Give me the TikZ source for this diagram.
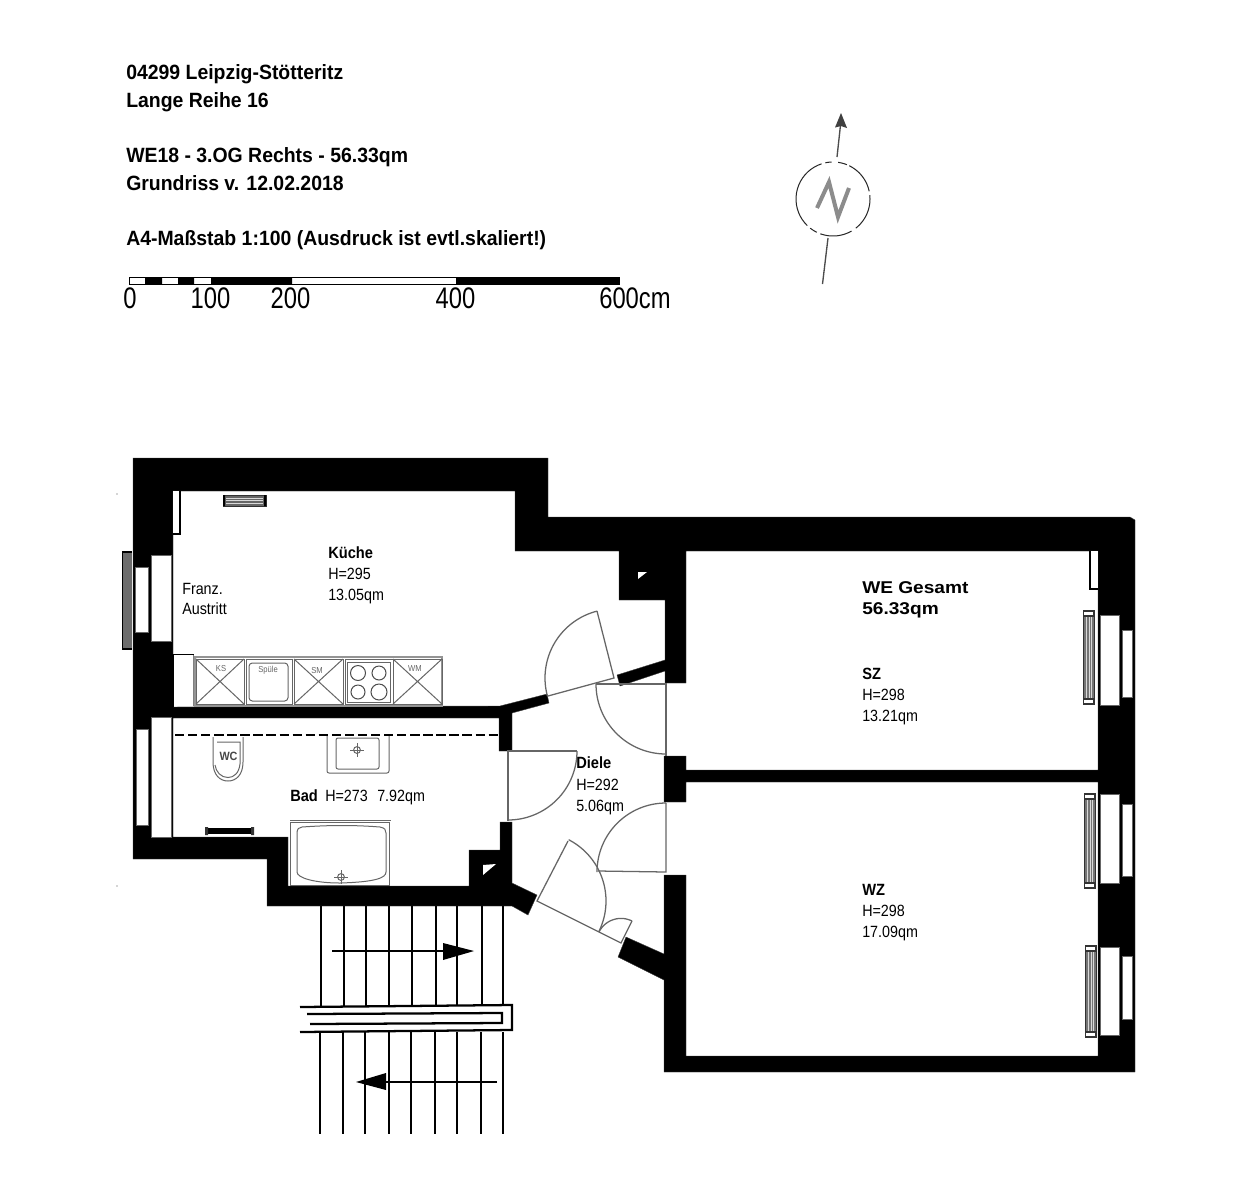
\documentclass[tikz,border=0pt]{standalone}
\usepackage{fontspec}
\setmainfont{Liberation Sans}
\newfontfamily\hdfont[FakeStretch=0.94]{Liberation Sans Bold}
\newfontfamily\scfont[FakeStretch=0.8]{Liberation Sans}
\newfontfamily\rmfont[FakeStretch=0.88]{Liberation Sans}
\newfontfamily\rbfont[FakeStretch=0.9]{Liberation Sans Bold}
\newfontfamily\wefont[FakeStretch=1.12]{Liberation Sans Bold}
\definecolor{fixgray}{HTML}{666666}
\tikzset{
  hd/.style={anchor=base west,inner sep=0pt,font=\hdfont\fontsize{15.5pt}{17pt}\selectfont},
  sc/.style={anchor=base,inner sep=0pt,font=\scfont\fontsize{22.3pt}{24pt}\selectfont},
  rm/.style={anchor=base west,inner sep=0pt,font=\rmfont\fontsize{12.2pt}{14pt}\selectfont},
  rb/.style={anchor=base west,inner sep=0pt,font=\rbfont\fontsize{12.2pt}{14pt}\selectfont},
  we/.style={anchor=base west,inner sep=0pt,font=\wefont\fontsize{12.8pt}{14pt}\selectfont},
  tiny/.style={anchor=center,inner sep=0pt,text=fixgray,font=\rmfont\fontsize{6.5pt}{7pt}\selectfont},
  door/.style={draw=fixgray,line width=0.95pt},
  fix/.style={draw=fixgray,line width=0.75pt},
  win/.style={fill=white,draw=fixgray,line width=0.5pt},
  stair/.style={draw=black,line width=1.9pt},
  rail/.style={draw=black,line width=1.7pt},
}
\newcommand{\darc}[5]{\draw[door] plot[domain=#4:#5,samples=40] ({#1+#3*cos(\x)},{#2+#3*sin(\x)});}
\newcommand{\rad}[4]{%
  \fill[fixgray!90] (#1,#2) rectangle (#3,#4);
  \foreach \q in {0.3,0.5,0.7}{\draw[white!70!gray,line width=0.3pt] ({#1+(#3-#1)*\q},{#2+5}) -- ({#1+(#3-#1)*\q},{#4-5});}
  \draw[black!80,line width=0.6pt] (#1,#2) rectangle (#3,#4);
  \draw[black!80,fill=white,line width=0.8pt] (#1,#2) rectangle (#3,{#2+5});
  \draw[black!80,fill=white,line width=0.8pt] (#1,{#4-5}) rectangle (#3,#4);}
\newcommand{\target}[3]{%
  \draw[fix] (#1,#2) circle (#3*0.62);
  \draw[fix,line width=0.5pt] ({#1-#3*1.2},#2) -- ({#1+#3*1.2},#2) ({#1},{#2-#3*1.2}) -- ({#1},{#2+#3*1.2});}
\begin{document}
\begin{tikzpicture}[x=0.75pt,y=-0.75pt]
\useasboundingbox (0,0) rectangle (1252,1200);
\fill[white] (0,0) rectangle (1252,1200);
% header
\node[hd] (t1) at (126,79) {04299 Leipzig-Stötteritz};
\node[hd] (t2) at (126,107) {Lange Reihe 16};
\node[hd] (t3) at (126,162) {WE18 - 3.OG Rechts - 56.33qm};
\node[hd] (t4) at (126,190) {Grundriss v. 12.02.2018};
\node[hd] (t5) at (126,245) {A4-Maßstab 1:100 (Ausdruck ist evtl.skaliert!)};
% scale bar
\draw[black,line width=0.75pt,fill=white] (129,277.5) rectangle (619,284);
\fill[black] (145,277.5) rectangle (162,284) (178,277.5) rectangle (194,284) (211,277.5) rectangle (292,284) (456,277.5) rectangle (619,284);
\node[sc] (s0) at (130,308) {0};
\node[sc] (s1) at (210.5,308) {100};
\node[sc] (s2) at (290.5,308) {200};
\node[sc] (s3) at (455.5,308) {400};
\node[sc,anchor=base west] (s4) at (599,308) {600cm};
% compass
\foreach \a/\b in {-82/-68,-64/-12,-6/52,60/110,116/128,134/252,258/268}{
  \draw[black!85,line width=0.75pt] plot[domain=\a:\b,samples=20] ({833+37*cos(\x)},{199+37*sin(\x)});}
\draw[black!70,line width=1pt] (837,157) -- (840.5,125);
\fill[black!75] (841,113) -- (847,128) -- (841,126) -- (835,127.5) -- cycle;
\draw[black!70,line width=1pt] (828,238) -- (822.5,284);
\draw[gray!90,line width=3pt,line join=miter] (817,208) -- (829,182) -- (838,217) -- (849,188);
% walls
\fill[black,draw=black!75,line width=0.3pt] (133,458) -- (548,458) -- (548,517) -- (1130,517) -- (1135,520) -- (1135,1072) -- (664,1072)
 -- (664,980) -- (618,957) -- (626,937) -- (664,954) -- (664,875) -- (686,875) -- (686,1056) -- (1098,1056) -- (1098,782) -- (686,782)
 -- (686,802) -- (664,802) -- (664,756) -- (686,756) -- (686,770) -- (1098,770) -- (1098,551) -- (686,551) -- (686,683) -- (665,683)
 -- (665,671) -- (620,686) -- (617,675) -- (665,660) -- (665,600) -- (619,600) -- (619,551) -- (515,551) -- (515,491) -- (173,491)
 -- (173,707) -- (500,706) -- (547,694) -- (549,703) -- (512,713) -- (512,751) -- (499,751) -- (499,718) -- (173,718) -- (173,837)
 -- (288,837) -- (288,886) -- (469,886) -- (469,850) -- (500,850) -- (500,822) -- (512,822) -- (512,883) -- (537,895) -- (528,915)
 -- (512,906) -- (267,906) -- (267,859) -- (133,859) -- cycle;
% flue openings
\fill[white] (638,572) -- (647,572) -- (638,579) -- cycle;
\fill[white] (483,865) -- (496,864) -- (483,875) -- cycle;
% alcoves
\fill[white] (173,491) rectangle (179,533);
\draw[black,line width=1.2pt] (180,491) -- (180,534) -- (173,534);
\fill[white] (1098,551) rectangle (1091,588);
\draw[black,line width=1.2pt] (1090,551) -- (1090,589) -- (1098,589);
% left windows
\draw[win] (151,555) rectangle (171,641);
\draw[win] (135,567) rectangle (148,632);
\draw[win] (151,717) rectangle (171,837);
\draw[win] (136,729) rectangle (148,825);
\fill[gray!85!black] (123,553) rectangle (132,648);
\draw[black,line width=1pt] (132,552) -- (122.5,552) -- (122.5,649) -- (132,649);
% right windows
\draw[win] (1100,615) rectangle (1119,705);
\draw[win] (1122,630) rectangle (1132,697);
\draw[win] (1100,794) rectangle (1119,883);
\draw[win] (1122,804) rectangle (1132,876);
\draw[win] (1100,947) rectangle (1119,1035);
\draw[win] (1122,956) rectangle (1132,1019);
\rad{1083.5}{611}{1094}{704}
\rad{1084.5}{794}{1095}{888}
\rad{1085.5}{946}{1096}{1037}
% kitchen vent
\fill[fixgray] (223,495) rectangle (266,506);
\foreach \v in {498,500.5,503}{\draw[white!70!gray,line width=0.3pt] (226,\v) -- (263,\v);}
\draw[black!80,line width=0.5pt] (223.5,495) rectangle (266,506);
\fill[black] (223,495) rectangle (225,506) (264,495) rectangle (266,506);
% kitchen niche
\fill[white] (173,655) rectangle (193,706);
\draw[black,line width=1.2pt] (172,654.5) -- (194,654.5);
\draw[black,line width=1pt] (173,655) -- (173,707);
\draw[gray,line width=0.75pt] (193.5,655) -- (193.5,706);
% kitchen counter
\draw[fixgray!70,line width=1.1pt] (195,657) rectangle (442,706);
\foreach \a/\b in {196/244,246/292,294/343,345/393,393/442}{\draw[fixgray,line width=0.7pt] (\a,659) rectangle (\b,704);}
\draw[fix] (196,659) -- (244,704) (244,659) -- (196,704);
\draw[fix] (294,659) -- (343,704) (343,659) -- (294,704);
\draw[fix] (393,659) -- (442,704) (442,659) -- (393,704);
\draw[fix,rounded corners=2.5pt] (249,663) rectangle (288,701);
\draw[fix] (347,662) rectangle (390,702);
\draw[black!70,line width=0.75pt] (358,673) circle (7.5) (379,673) circle (7) (358,692) circle (7) (379,692) circle (8);
\node[fill=white,inner sep=0.8pt,tiny] (ks) at (221,669) {KS};
\node[tiny] (sp) at (268,670) {Spüle};
\node[fill=white,inner sep=0.8pt,tiny] (sm) at (317,671) {SM};
\node[fill=white,inner sep=0.8pt,tiny] (wm) at (415,669) {WM};
% bath
\draw[black,line width=2pt,dash pattern=on 7pt off 2.8pt] (175,735) -- (499,735);
\draw[fix] (213,737) -- (213,762) .. controls (213,775) and (220,781) .. (228,781) .. controls (236,781) and (243,775) .. (243,762) -- (243,737);
\draw[fix] (217,742) -- (240,742) -- (240,764) .. controls (239,773) and (234,777.5) .. (228,777.5) .. controls (221,777.5) and (216,772) .. (215,765);
\node[inner sep=0pt,text=fixgray!70!black,font=\rbfont\fontsize{9pt}{10pt}\selectfont] (wc) at (228.5,756.5) {WC};
\draw[fix,rounded corners=1.5pt] (327,736) -- (327,773) -- (389,773) -- (389,736);
\draw[fix,rounded corners=1.5pt] (336,738) rectangle (379,769);
\target{357}{750}{5.5}
\draw[fill=white,black,line width=0.5pt] (206,828.5) rectangle (253,833.5);
\fill[black!80] (205,827) rectangle (208,835) (251,827) rectangle (254,835);
\draw[fix] (290,822) rectangle (389,885);
\draw[fix] (290,820.5) -- (391,820.5);
\draw[fix] (302,827) .. controls (330,825) and (355,825) .. (380,827) .. controls (385,828) and (386,830) .. (386,833) -- (386,872) .. controls (386,878) and (375,882) .. (340,883) .. controls (315,883) and (297,878) .. (297,872) -- (297,833) .. controls (297,829) and (299,827) .. (302,827) -- cycle;
\target{341}{877}{5.5}
% doors
\draw[door] (548,696) -- (614,678) -- (597,611);
\darc{614}{678}{69}{164.7}{255.8}
\draw[door] (596,684) -- (666,684) -- (666,756);
\darc{666}{684}{70}{90}{180}
\draw[door] (577,751) -- (508,751) -- (508,821);
\darc{508}{751}{69}{0}{90}
\draw[door] (666,803) -- (666,872) -- (598,871);
\darc{666}{872}{69}{180}{270}
\draw[door] (568,841) -- (537,901) -- (621,943) -- (632,921);
\darc{537}{901}{69}{-62.7}{26.6}
\darc{621}{943}{24.6}{206.6}{296.6}
% stairs
\foreach \x in {321,344,366,389,412,436,457,482,503}{\draw[stair] (\x,906) -- (\x,1007);}
\foreach \x in {320,343,365,389,411,435,457,481,503}{\draw[stair] (\x,1032) -- (\x,1134);}
\draw[stair] (332,951) -- (445,951);
\fill[black] (474,951) -- (443,943) -- (443,960) -- cycle;
\draw[stair] (497,1082) -- (384,1082);
\fill[black] (356,1082) -- (386,1073) -- (386,1090) -- cycle;
\draw[rail,fill=white] (300,1007) -- (512,1005) -- (512,1030) -- (300,1032);
\draw[rail] (307,1014) -- (502,1013) -- (502,1023) -- (310,1024);
% specks
\fill[black!70] (117,494) circle (0.7) (117,886) circle (0.7);
% room labels
\node[rb] (k1) at (328,558.5) {Küche};
\node[rm] (k2) at (328,579.5) {H=295};
\node[rm] (k3) at (328,600.5) {13.05qm};
\node[rm] (f1) at (182,594) {Franz.};
\node[rm] (f2) at (182,614.5) {Austritt};
\node[rb] (b1) at (290,801) {Bad};
\node[rm] (b2) at (325,801) {H=273};
\node[rm] (b3) at (377,801) {7.92qm};
\node[rb] (d1) at (576,768.5) {Diele};
\node[rm] (d2) at (576,790) {H=292};
\node[rm] (d3) at (576,811) {5.06qm};
\node[we] (w1) at (862,593) {WE Gesamt};
\node[we] (w2) at (862,614) {56.33qm};
\node[rb] (z1) at (862,679) {SZ};
\node[rm] (z2) at (862,700) {H=298};
\node[rm] (z3) at (862,721) {13.21qm};
\node[rb] (y1) at (862,895.5) {WZ};
\node[rm] (y2) at (862,916.5) {H=298};
\node[rm] (y3) at (862,937.5) {17.09qm};
\end{tikzpicture}
\end{document}
